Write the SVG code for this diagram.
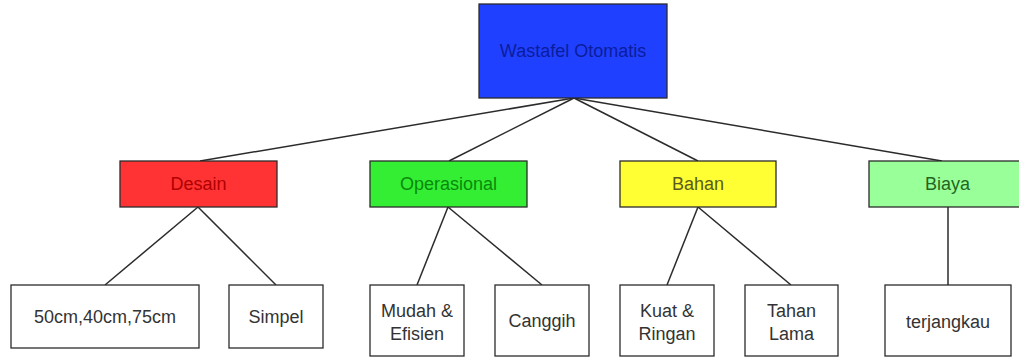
<svg xmlns="http://www.w3.org/2000/svg" width="1019" height="358" viewBox="0 0 1019 358">
<style>
rect{stroke:#2b2b2b;stroke-width:1.3}
text{font-family:"Liberation Sans",Arial,sans-serif;font-size:18px;text-anchor:middle}
.leaf rect{fill:#ffffff}
.leaf text{fill:#333333}
#connectors line{stroke:#2b2b2b;stroke-width:1.5}
</style>
<rect x="0" y="0" width="1019" height="358" fill="#ffffff" style="stroke:none"/>
<g id="connectors">
<line x1="574" y1="98" x2="200" y2="161"/>
<line x1="574" y1="98" x2="449" y2="161"/>
<line x1="574" y1="98" x2="698" y2="161"/>
<line x1="574" y1="98" x2="942" y2="161"/>
<line x1="198" y1="207" x2="105" y2="285"/>
<line x1="198" y1="207" x2="276" y2="285"/>
<line x1="448" y1="207" x2="417" y2="285"/>
<line x1="448" y1="207" x2="542" y2="285"/>
<line x1="698" y1="207" x2="667" y2="285"/>
<line x1="698" y1="207" x2="791" y2="285"/>
<line x1="948" y1="207" x2="948" y2="285"/>
</g>
<g id="root">
<rect x="479" y="4" width="188" height="94" fill="#2040ff"/>
<text x="573" y="57" fill="#0b1d9c">Wastafel Otomatis</text>
</g>
<g id="desain">
<rect x="120" y="161" width="157" height="46" fill="#ff3333"/>
<text x="198.5" y="190" fill="#b00000">Desain</text>
</g>
<g id="operasional">
<rect x="370" y="161" width="157" height="46" fill="#33ee33"/>
<text x="448.5" y="190" fill="#0a8a0a">Operasional</text>
</g>
<g id="bahan">
<rect x="620" y="161" width="156" height="46" fill="#ffff33"/>
<text x="698" y="190" fill="#5a5a1e">Bahan</text>
</g>
<g id="biaya">
<rect x="869" y="161" width="157" height="46" fill="#99ff99"/>
<text x="947.5" y="190" fill="#226622">Biaya</text>
</g>
<g id="ukuran" class="leaf">
<rect x="11" y="285" width="188" height="63"/>
<text x="105" y="323">50cm,40cm,75cm</text>
</g>
<g id="simpel" class="leaf">
<rect x="229" y="285" width="94" height="63"/>
<text x="276" y="323">Simpel</text>
</g>
<g id="mudah" class="leaf">
<rect x="370" y="285" width="94" height="71"/>
<text x="417" y="317">Mudah &amp;</text>
<text x="417" y="340">Efisien</text>
</g>
<g id="canggih" class="leaf">
<rect x="495" y="285" width="94" height="71"/>
<text x="542" y="327">Canggih</text>
</g>
<g id="kuat" class="leaf">
<rect x="620" y="285" width="94" height="71"/>
<text x="667" y="317">Kuat &amp;</text>
<text x="667" y="340">Ringan</text>
</g>
<g id="tahan" class="leaf">
<rect x="745" y="285" width="93" height="71"/>
<text x="791.5" y="317">Tahan</text>
<text x="791.5" y="340">Lama</text>
</g>
<g id="terjangkau" class="leaf">
<rect x="885" y="285" width="126" height="71"/>
<text x="948" y="328">terjangkau</text>
</g>
</svg>
